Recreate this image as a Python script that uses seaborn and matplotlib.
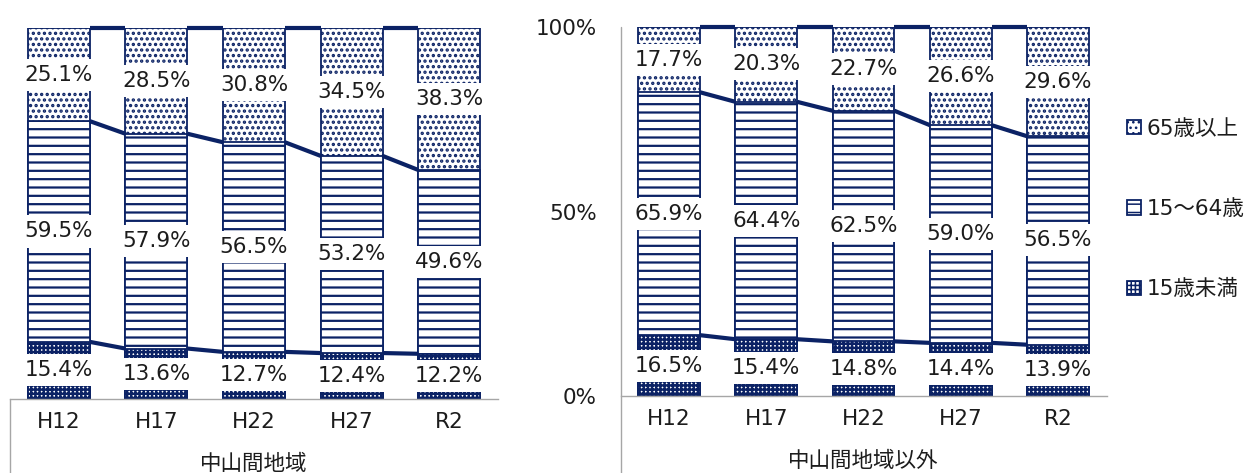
import matplotlib
matplotlib.use("Agg")
import matplotlib.pyplot as plt
from matplotlib.patches import Patch
import numpy as np
import seaborn as sns

# Population share by age group (%), census years
years = ["H12", "H17", "H22", "H27", "R2"]
mountain_u15 = [15.4, 13.6, 12.7, 12.4, 12.2]
mountain_15_64 = [59.5, 57.9, 56.5, 53.2, 49.6]
mountain_65 = [25.1, 28.5, 30.8, 34.5, 38.3]
other_u15 = [16.5, 15.4, 14.8, 14.4, 13.9]
other_15_64 = [65.9, 64.4, 62.5, 59.0, 56.5]
other_65 = [17.7, 20.3, 22.7, 26.6, 29.6]

group_labels = ["中山間地域", "中山間地域以外"]
legend_labels = ["65歳以上", "15～64歳", "15歳未満"]

NAVY = "#0b2265"
GRAY = "#a6a6a6"
TEXT = "#1c1c1c"
BAR_W = 0.635
FS = 15.5

sns.set_style("white")
plt.rcParams["font.family"] = ["DejaVu Sans", "Noto Sans CJK JP"]
plt.rcParams["hatch.linewidth"] = 1.1

fig = plt.figure(figsize=(12.47, 4.73), dpi=100)
W, H = 1247, 473
ax_l = fig.add_axes([10 / W, (H - 399) / H, 488 / W, 371 / H])
ax_r = fig.add_axes([620.5 / W, (H - 396) / H, 486 / W, 369 / H])

styles = [
    dict(hatch="..."),   # 65+
    dict(hatch="--"),    # 15-64
    dict(hatch="++++"),  # under 15
]
hatch_lws = [1.6, 1.6, 1.8]


def set_hatch_lw(ax, start, lw):
    for p in ax.patches[start:]:
        if hasattr(p, "set_hatch_linewidth"):
            p.set_hatch_linewidth(lw)


def draw_panel(ax, u15, mid, old, title, show_y):
    u15 = np.asarray(u15, float)
    mid = np.asarray(mid, float)
    old = np.asarray(old, float)
    total = u15 + mid + old
    # 100% stacking, normalised by each year's total
    top_u15 = u15 / total * 100
    top_mid = (u15 + mid) / total * 100
    top_all = np.full(len(years), 100.0)

    for tops, st, hlw in zip([top_all, top_mid, top_u15], styles, hatch_lws):
        n0 = len(ax.patches)
        sns.barplot(x=years, y=tops, order=years, ax=ax, width=BAR_W,
                    color="white", saturation=1, edgecolor=NAVY,
                    linewidth=1.3, errorbar=None, zorder=2, **st)
        set_hatch_lw(ax, n0, hlw)

    # series lines joining segment tops between neighbouring bars
    for tops in [top_u15, top_mid, top_all]:
        for i in range(len(years) - 1):
            ax.plot([i + BAR_W / 2, i + 1 - BAR_W / 2], [tops[i], tops[i + 1]],
                    color=NAVY, lw=3.0, solid_capstyle="butt", zorder=3,
                    clip_on=False)

    # value labels at segment centres
    bottoms = [np.zeros(len(years)), top_u15, top_mid]
    tops_list = [top_u15, top_mid, top_all]
    values = [u15, mid, old]
    for b, t, v in zip(bottoms, tops_list, values):
        for i in range(len(years)):
            ax.text(i, (b[i] + t[i]) / 2, f"{v[i]:.1f}%", ha="center",
                    va="center", fontsize=FS, color=TEXT, zorder=5,
                    bbox=dict(boxstyle="square,pad=0.28", fc="white",
                              ec="none"))

    ax.set_xlim(-0.5, len(years) - 0.5)
    ax.set_ylim(0, 100)
    ax.set_xlabel("")
    ax.set_ylabel("")
    for s in ["top", "right", "left"]:
        ax.spines[s].set_visible(False)
    ax.spines["bottom"].set_color(GRAY)
    ax.spines["bottom"].set_linewidth(1.0)
    ax.tick_params(axis="x", length=0, pad=9, labelsize=FS,
                   labelcolor=TEXT)
    bottom_ext = -77 / 369
    if show_y:
        ax.set_yticks([0, 50, 100])
        ax.set_yticklabels(["0%", "50%", "100%"])
        ax.tick_params(axis="y", length=0, pad=17, labelsize=FS,
                       labelcolor=TEXT)
        ax.plot([0, 0], [1, bottom_ext], transform=ax.transAxes,
                color=GRAY, lw=1.0, clip_on=False, zorder=1)
    else:
        ax.set_yticks([])
        ax.plot([0, 0], [0, bottom_ext], transform=ax.transAxes,
                color=GRAY, lw=1.0, clip_on=False, zorder=1)
    ax.text(0.5, -0.175, title, transform=ax.transAxes, ha="center",
            va="center", fontsize=15.5, color=TEXT)


draw_panel(ax_l, mountain_u15, mountain_15_64, mountain_65,
           group_labels[0], False)
draw_panel(ax_r, other_u15, other_15_64, other_65, group_labels[1], True)

handles = []
for st, lw in zip(styles, hatch_lws):
    p = Patch(facecolor="white", edgecolor=NAVY, linewidth=1.3, **st)
    if hasattr(p, "set_hatch_linewidth"):
        p.set_hatch_linewidth(lw)
    handles.append(p)
fig.legend(handles, legend_labels, loc="center left",
           bbox_to_anchor=(1127 / W, (H - 209) / H), frameon=False,
           fontsize=FS, handlelength=0.65, handleheight=0.65,
           handletextpad=0.25, labelspacing=2.8, borderpad=0,
           borderaxespad=0, labelcolor=TEXT)

fig.savefig("out.png", dpi=100)
